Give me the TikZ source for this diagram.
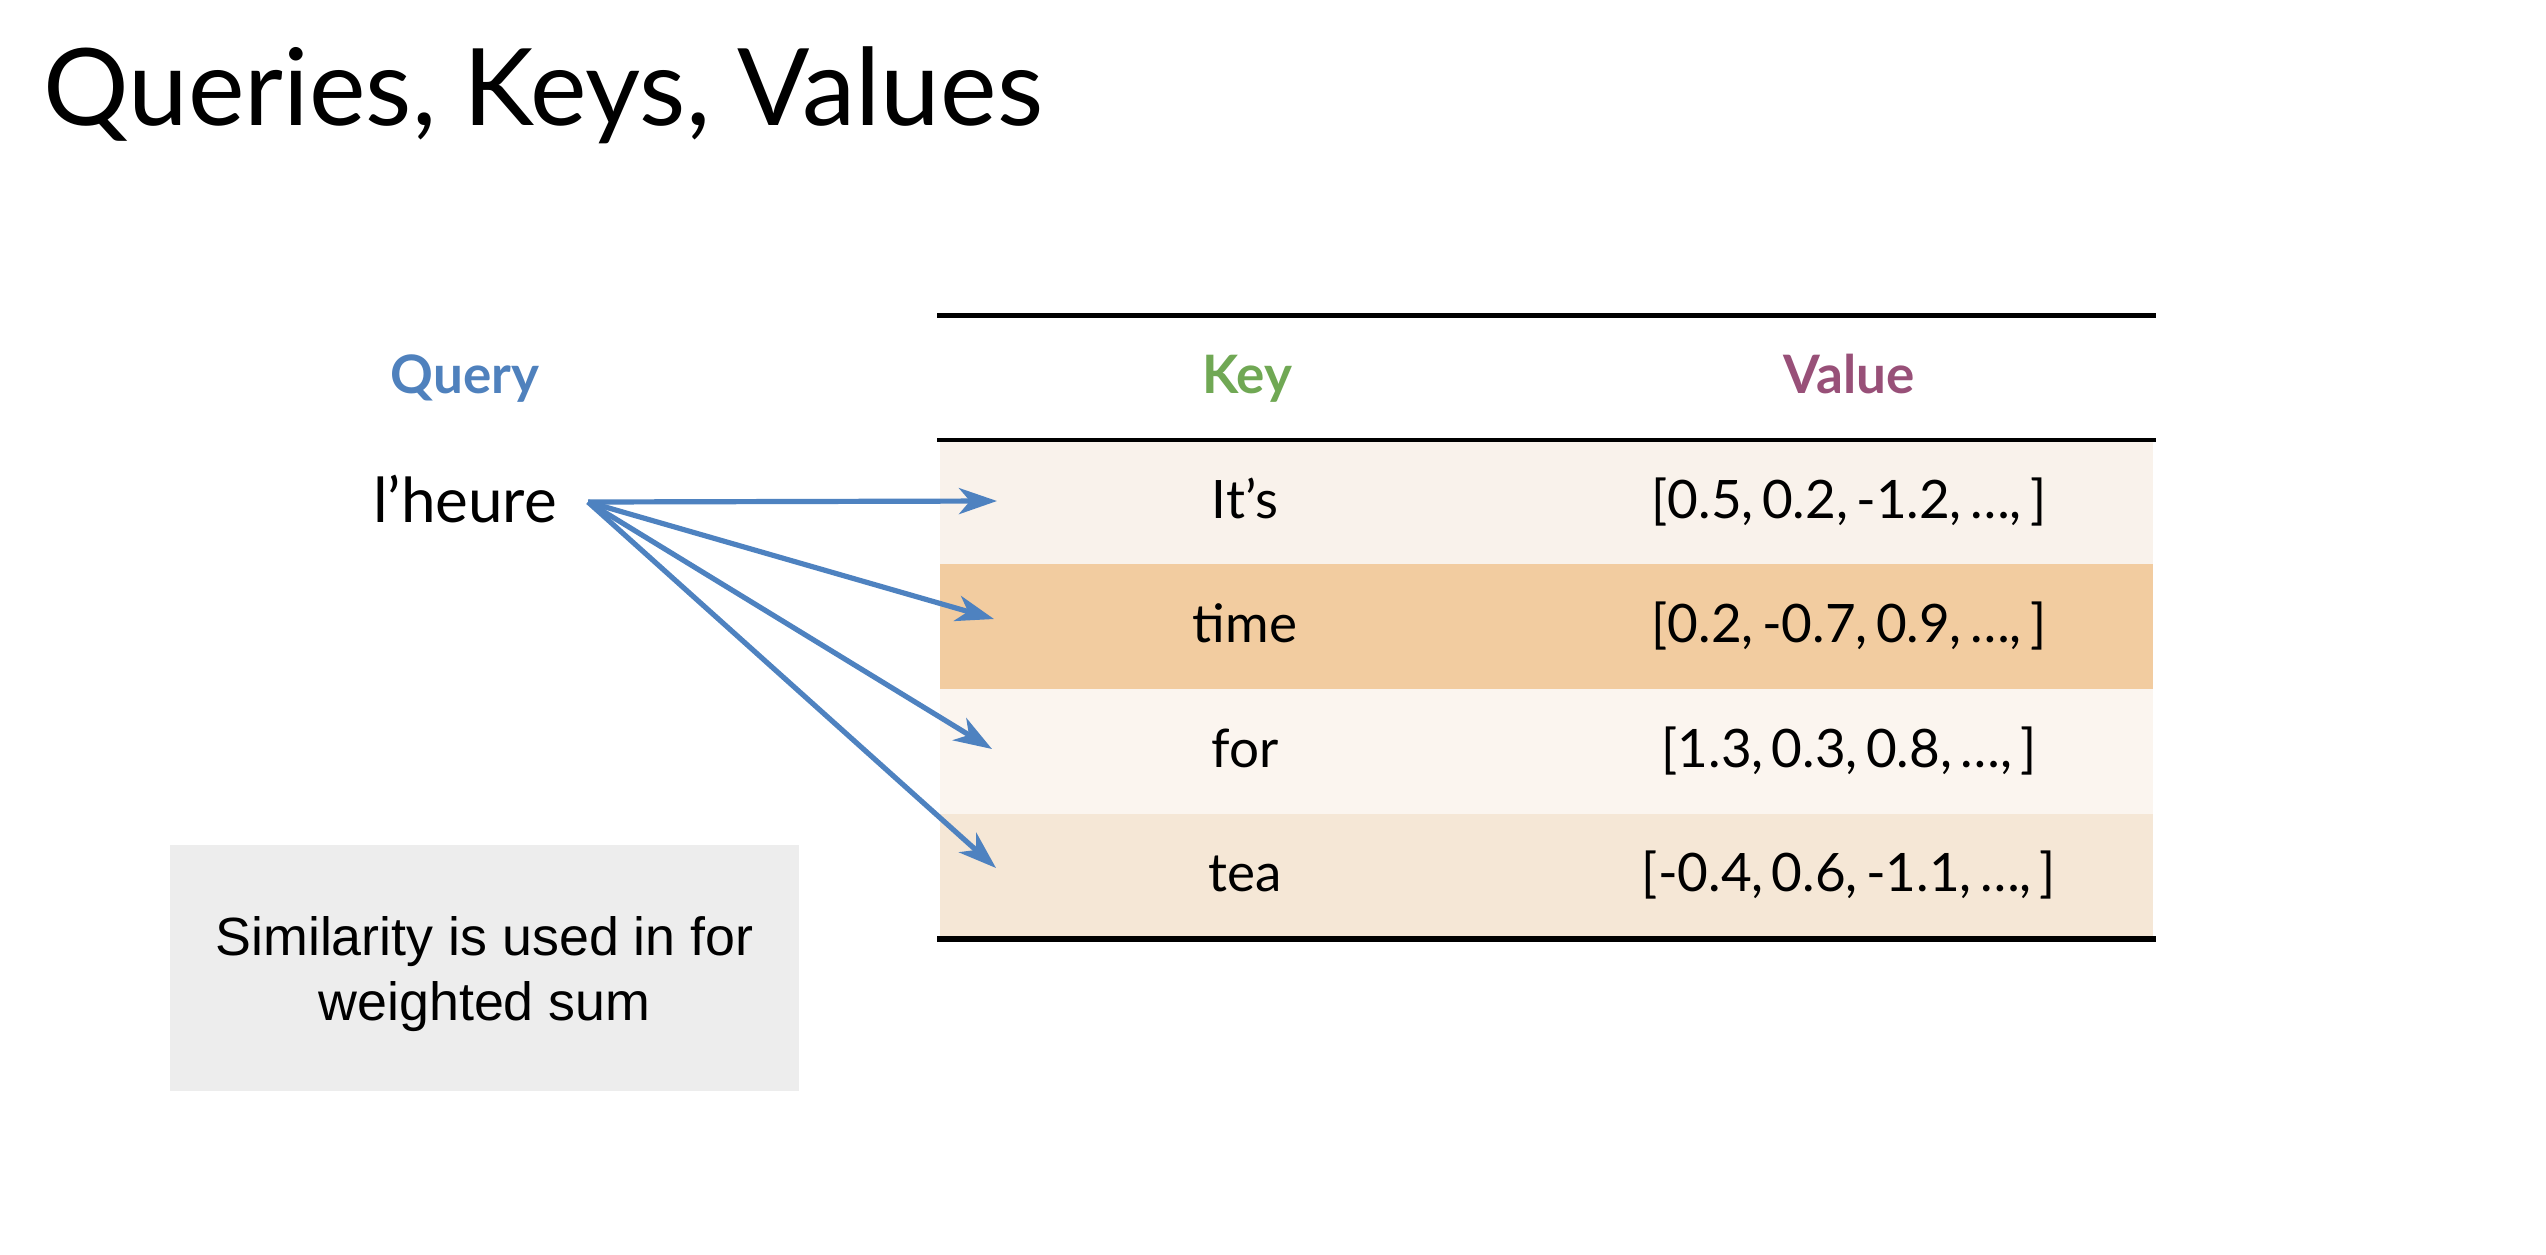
\documentclass[tikz,border=0pt]{standalone}
\usepackage{fontspec}
\setmainfont{Lato}
\newfontfamily\valfont[WordSpace=0.6]{Lato}
\newfontfamily\arialfont{Liberation Sans}
\usetikzlibrary{arrows.meta}
\definecolor{qblue}{RGB}{79,129,189}
\definecolor{arrblue}{RGB}{78,130,192}
\definecolor{kgreen}{RGB}{112,168,84}
\definecolor{vpurple}{RGB}{152,80,120}
\definecolor{rowA}{RGB}{249,242,235}
\definecolor{rowB}{RGB}{242,204,160}
\definecolor{rowC}{RGB}{251,245,239}
\definecolor{rowD}{RGB}{245,231,214}
\definecolor{boxgray}{RGB}{237,237,237}
\begin{document}
\begin{tikzpicture}[x=0.5pt,y=-0.5pt,
  txt/.style={inner sep=0pt, anchor=base, font=\fontsize{26.5}{30}\selectfont},
  valtxt/.style={txt, font=\valfont\fontsize{26.5}{30}\selectfont},
  hdr/.style={txt, font=\fontsize{26.5}{30}\selectfont\bfseries},
  arr/.style={draw=arrblue, line width=2.6pt,
    -{Stealth[length=19pt, width=13pt, inset=5.5pt]}},
  rule/.style={draw=black}]
\useasboundingbox[fill=white] (0,0) rectangle (2546,1254);
% title
\node[inner sep=0pt, anchor=base west, font=\fontsize{53.5}{60}\selectfont] (title) at (43,125.5) {Queries, Keys, Values};
% table rows
\fill[rowA] (940,441.7) rectangle (2153,564);
\fill[rowB] (940,564) rectangle (2153,689);
\fill[rowC] (940,689) rectangle (2153,814);
\fill[rowD] (940,814) rectangle (2153,935.5);
% table rules
\draw[rule, line width=2.4pt] (937,315.7) -- (2156,315.7);
\draw[rule, line width=1.65pt] (937,440) -- (2156,440);
\draw[rule, line width=3pt] (937,938.5) -- (2156,938.5);
% headers
\node[hdr, text=qblue] (qh) at (465,393) {Query};
\node[hdr, text=kgreen] (kh) at (1247,393) {Key};
\node[hdr, text=vpurple] (vh) at (1849,393) {Value};
% query word
\node[inner sep=0pt, anchor=base, font=\fontsize{31}{34}\selectfont] (q) at (465,522) {l’heure};
% keys
\node[txt] (k1) at (1245,518) {It’s};
\node[txt] (k2) at (1245,642) {time};
\node[txt] (k3) at (1245,767) {for};
\node[txt] (k4) at (1245,891) {tea};
% values
\node[valtxt] (v1) at (1849,518) {[0.5, 0.2, -1.2, …, ]};
\node[valtxt] (v2) at (1849,642) {[0.2, -0.7, 0.9, …, ]};
\node[valtxt] (v3) at (1849,767) {[1.3, 0.3, 0.8, …, ]};
\node[valtxt] (v4) at (1849,891) {[-0.4, 0.6, -1.1, …, ]};
% arrows
\coordinate (src) at (588,502);
\coordinate (t1) at (997,501);
\coordinate (t2) at (994,619);
\coordinate (t3) at (992,749);
\coordinate (t4) at (996,868);
\draw[arr] (src) -- (t1);
\draw[arr] (src) -- (t2);
\draw[arr] (src) -- (t3);
\draw[arr] (src) -- (t4);
% note box
\node[fill=boxgray, minimum width=314.5pt, minimum height=123pt, inner sep=0pt] (note) at (484.5,968) {};
\node[inner sep=0pt, align=center, font=\arialfont\fontsize{26.9}{32.5}\selectfont] (notetext) at (484.5,974)
  {Similarity is used in for\\weighted sum};
\end{tikzpicture}
\end{document}
